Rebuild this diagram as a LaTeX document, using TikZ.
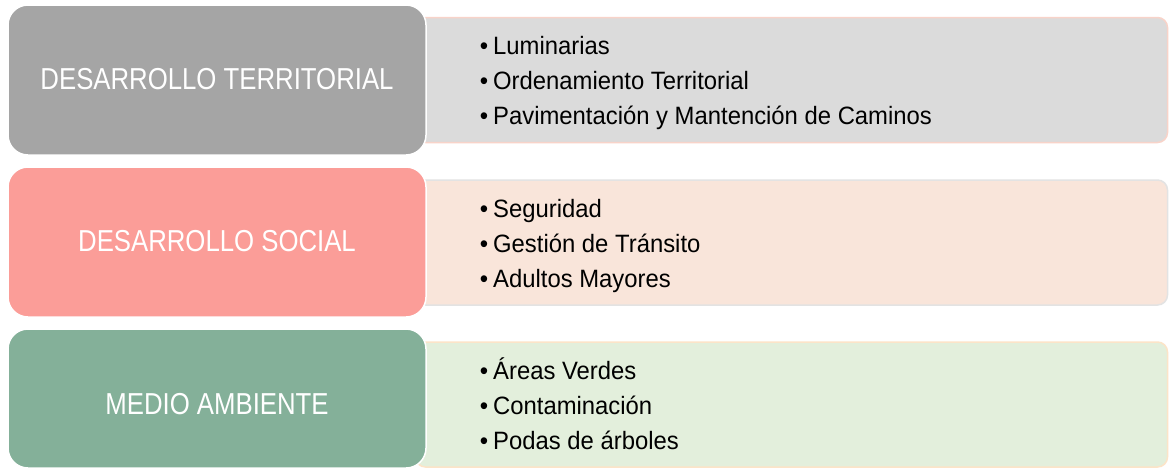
\documentclass[tikz,border=0pt]{standalone}
\usepackage{fontspec}
\setmainfont{Liberation Sans}
\newfontfamily\leftfont[FakeStretch=0.85]{Liberation Sans}
\newfontfamily\rightfont[FakeStretch=0.95]{Liberation Sans}
\definecolor{lgray}{HTML}{A5A5A5}
\definecolor{lpink}{HTML}{FB9D98}
\definecolor{lgreen}{HTML}{84B099}
\definecolor{rgray}{HTML}{DBDBDB}
\definecolor{rgrayb}{HTML}{F8D3C9}
\definecolor{rpink}{HTML}{F9E5DA}
\definecolor{rpinkb}{HTML}{E3E3E3}
\definecolor{rgreen}{HTML}{E3EFDC}
\definecolor{rgreenb}{HTML}{FCE4C8}
\tikzset{
  lbox/.style={rectangle, rounded corners=20pt, draw=white, line width=1.5pt, minimum width=418pt, inner sep=0pt, outer sep=0pt},
  rbox/.style={rectangle, rounded corners=10pt, line width=1.5pt, minimum width=752pt, minimum height=125pt, inner sep=0pt, outer sep=0pt},
  ltext/.style={anchor=base, text=white, inner sep=0pt, font=\leftfont\fontsize{30.3}{36}\selectfont},
  rtext/.style={anchor=base west, text=black, inner sep=0pt, font=\rightfont\fontsize{25.1}{30}\selectfont}
}
\newcommand{\bul}{\llap{•\hspace{5pt}}}
\begin{document}
\begin{tikzpicture}[x=1pt,y=-1pt]
\useasboundingbox (0,0) rectangle (1169,469);
\fill[white] (0,0) rectangle (1169,469);
% right boxes
\node[rbox, fill=rgray, draw=rgrayb] (r1) at (791.5,80) {};
\node[rbox, fill=rpink, draw=rpinkb] (r2) at (791.5,242.5) {};
\node[rbox, fill=rgreen, draw=rgreenb] (r3) at (791.5,404.5) {};
% left boxes
\node[lbox, fill=lgray, minimum height=150pt] (l1) at (217,80) {};
\node[lbox, fill=lpink, minimum height=150pt] (l2) at (217,242) {};
\node[lbox, fill=lgreen, minimum height=139pt] (l3) at (217,398.5) {};
% left labels
\node[ltext] (t1) at (217,89.3) {DESARROLLO TERRITORIAL};
\node[ltext] (t2) at (217,251.7) {DESARROLLO SOCIAL};
\node[ltext] (t3) at (217,414) {MEDIO AMBIENTE};
% right items
\node[rtext] (a1) at (493,54) {\bul Luminarias};
\node[rtext] (a2) at (493,89.3) {\bul Ordenamiento Territorial};
\node[rtext] (a3) at (493,124) {\bul Pavimentación y Mantención de Caminos};
\node[rtext] (b1) at (493,217) {\bul Seguridad};
\node[rtext] (b2) at (493,252) {\bul Gestión de Tránsito};
\node[rtext] (b3) at (493,287) {\bul Adultos Mayores};
\node[rtext] (c1) at (493,379) {\bul Áreas Verdes};
\node[rtext] (c2) at (493,414) {\bul Contaminación};
\node[rtext] (c3) at (493,449) {\bul Podas de árboles};
\end{tikzpicture}
\end{document}
